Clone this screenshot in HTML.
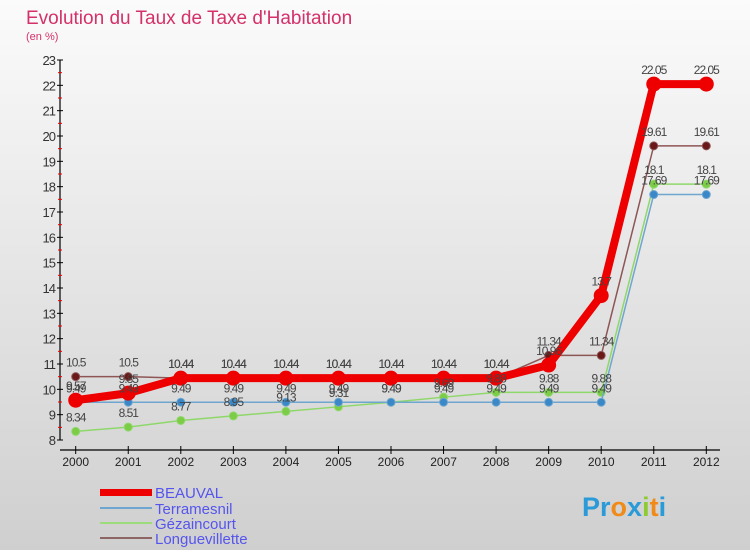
<!DOCTYPE html>
<html><head><meta charset="utf-8"><style>
body{margin:0;width:750px;height:550px;overflow:hidden;font-family:"Liberation Sans",sans-serif}
#wrap{position:relative;width:750px;height:550px;background:linear-gradient(#fbfbfb,#cfcfcf)}
</style></head><body>
<div id="wrap">
<svg id="c" width="750" height="550" xmlns="http://www.w3.org/2000/svg">
<text x="26" y="24" font-size="19" fill="#d4306a">Evolution du Taux de Taxe d'Habitation</text>
<text x="26" y="40" font-size="11" fill="#d4306a">(en %)</text>
<g id="axes"></g><g id="series"></g><g id="labels"></g>
<g>
<rect x="100" y="489" width="52" height="7" fill="#ee0000"/>
<text x="155" y="498" font-size="15" fill="#5555ee">BEAUVAL</text>
<rect x="100" y="507" width="52" height="2" fill="#6fa6cf"/>
<text x="155" y="514" font-size="15" fill="#5555ee">Terramesnil</text>
<rect x="100" y="522" width="52" height="2" fill="#9ddc7a"/>
<text x="155" y="529" font-size="15" fill="#5555ee">Gézaincourt</text>
<rect x="100" y="537" width="52" height="2" fill="#8e6565"/>
<text x="155" y="544" font-size="15" fill="#5555ee">Longuevillette</text>
</g>
<g font-size="27" font-weight="bold">
<text x="582" y="516"><tspan fill="#2a9ad8">Pr</tspan><tspan fill="#f08a18">o</tspan><tspan fill="#2a9ad8">x</tspan><tspan fill="#8ccc30">i</tspan><tspan fill="#f08a18">t</tspan><tspan fill="#2a9ad8">i</tspan></text>
</g>
</svg>
</div>
<script>
const years=[2000,2001,2002,2003,2004,2005,2006,2007,2008,2009,2010,2011,2012];
const yTicks=[8,9,10,11,12,13,14,15,16,17,18,19,20,21,22,23];
const beauval=[9.57,9.85,10.44,10.44,10.44,10.44,10.44,10.44,10.44,10.96,13.7,22.05,22.05];
const terramesnil=[9.49,9.49,9.49,9.49,9.49,9.49,9.49,9.49,9.49,9.49,9.49,17.69,17.69];
const gezaincourt=[8.34,8.51,8.77,8.95,9.13,9.31,9.49,9.69,9.88,9.88,9.88,18.1,18.1];
const longuevillette=[10.5,10.5,10.44,10.44,10.44,10.44,10.44,10.44,10.44,11.34,11.34,19.61,19.61];
const NS='http://www.w3.org/2000/svg';
const X=i=>75.7+i*52.55;
const Y=v=>440-(v-8)*(380/15);
function mk(tag,attrs,parent){const e=document.createElementNS(NS,tag);for(const k in attrs)e.setAttribute(k,attrs[k]);parent.appendChild(e);return e;}
const axes=document.getElementById('axes'),ser=document.getElementById('series'),lab=document.getElementById('labels');
let a=mk('line',{x1:60,y1:Y(23),x2:60,y2:Y(8),stroke:'#000','stroke-width':1.2},axes);


a=mk('line',{x1:60,y1:450,x2:720,y2:450,stroke:'#000','stroke-width':1.2},axes);


yTicks.forEach(v=>{
 let t=mk('line',{x1:57,x2:63,y1:Y(v),y2:Y(v),stroke:'#000'},axes);
 
 
 let tx=mk('text',{x:55,y:Y(v)+5,'font-size':13,'text-anchor':'end',fill:'#333','letter-spacing':'-1'},axes);
 tx.textContent=v;
 
 
 if(v<23){let m=mk('line',{x1:58,x2:62,y1:Y(v+0.5),y2:Y(v+0.5),stroke:'#e00'},axes);
 
 }
});
years.forEach((yr,i)=>{
 let t=mk('line',{x1:X(i),x2:X(i),y1:446,y2:454,stroke:'#000'},axes);
 
 
 let tx=mk('text',{x:X(i),y:466,'font-size':12,'text-anchor':'middle',fill:'#222'},axes);
 tx.textContent=yr;
 
 
});
function series(vals,name,color,w,r,dot,dy){
 const pl=mk('polyline',{points:vals.map((v,i)=>X(i)+','+Y(v)).join(' '),fill:'none',stroke:color,'stroke-width':w,'stroke-linejoin':'round'},ser);
 
 
 vals.forEach((v,i)=>{
  const c=mk('circle',{cx:X(i),cy:Y(v),r:r,fill:dot,stroke:color,'stroke-width':1},ser);
  
  
  const t=mk('text',{x:X(i),y:Y(v)+dy,'font-size':12,'text-anchor':'middle',fill:'#444','letter-spacing':'-1'},lab);
  t.textContent=v;
  
  
 });
}
series(gezaincourt,'gezaincourt','#8ed86a',1.5,4,'#7ccc48',-10);
series(terramesnil,'terramesnil','#6fa6cf',1.5,4,'#3a88c8',-10);
series(longuevillette,'longuevillette','#8e5555',1.5,4,'#6a1818',-10);
series(beauval,'beauval','#ee0000',8,7,'#ee0000',-10);
</script>
</body></html>
